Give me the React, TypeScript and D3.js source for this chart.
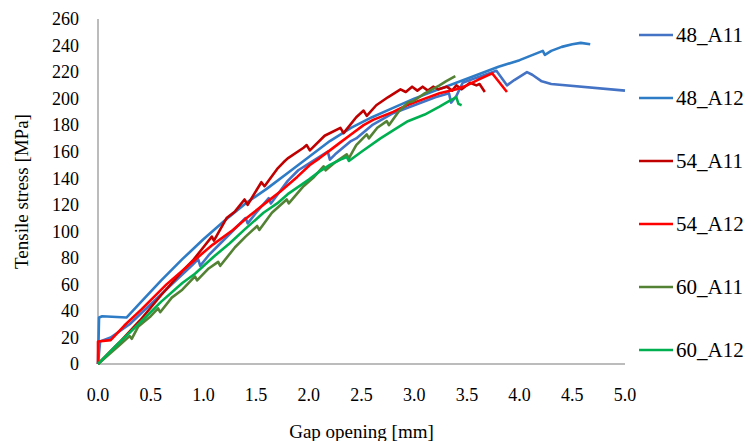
import React from 'react';
import * as d3 from 'd3';

// gap opening [mm], tensile stress [MPa]
const s48A11: [number, number][] = [
  [0, 0], [0.02, 17], [0.12, 20], [0.3, 30], [0.5, 45], [0.7, 60], [0.9, 75], [0.95, 79], [0.97, 74],
  [1.05, 82], [1.2, 94], [1.4, 110], [1.42, 106], [1.5, 114], [1.62, 125], [1.64, 121], [1.8, 138],
  [1.9, 146], [2.0, 151], [2.18, 160], [2.2, 154], [2.25, 158], [2.4, 168], [2.45, 170], [2.6, 180],
  [2.8, 189], [3.0, 195], [3.2, 201], [3.33, 204], [3.35, 197], [3.4, 202], [3.46, 212], [3.6, 216],
  [3.78, 221], [3.88, 210], [3.95, 214], [4.07, 220], [4.12, 218], [4.21, 213], [4.3, 211], [5.0, 206],
];
const s48A12: [number, number][] = [
  [0, 0], [0.01, 35], [0.04, 36], [0.27, 35], [0.4, 46], [0.6, 63], [0.8, 79], [1.0, 94], [1.2, 108],
  [1.4, 121], [1.6, 132], [1.8, 144], [2.0, 156], [2.2, 168], [2.4, 178], [2.6, 186], [2.8, 193],
  [3.0, 200], [3.2, 206], [3.4, 212], [3.6, 218], [3.8, 224], [4.0, 229], [4.22, 236], [4.24, 233],
  [4.3, 236], [4.4, 239], [4.5, 241], [4.58, 242], [4.67, 241],
];
const s54A11: [number, number][] = [
  [0, 0], [0.2, 16], [0.4, 33], [0.6, 52], [0.8, 70], [0.9, 78], [1.0, 88], [1.08, 96], [1.1, 93],
  [1.22, 110], [1.3, 115], [1.39, 124], [1.42, 120], [1.55, 137], [1.58, 134], [1.7, 147], [1.76, 152],
  [1.8, 155], [1.95, 163], [1.98, 165], [2.01, 161], [2.15, 172], [2.3, 178], [2.33, 174], [2.45, 186],
  [2.52, 191], [2.55, 187], [2.64, 195], [2.75, 201], [2.87, 207], [2.92, 205], [2.98, 209], [3.03, 206],
  [3.08, 209], [3.13, 206], [3.18, 209], [3.23, 207], [3.31, 209], [3.36, 206], [3.4, 210], [3.45, 207],
  [3.53, 212], [3.59, 210], [3.62, 211], [3.67, 205],
];
const s54A12: [number, number][] = [
  [0, 0], [0, 17], [0.12, 18], [0.25, 29], [0.41, 41], [0.65, 60], [0.97, 82], [1.09, 90], [1.28, 101],
  [1.41, 110], [1.6, 122], [1.73, 130], [1.89, 141], [2.01, 150], [2.1, 155], [2.2, 161], [2.3, 167],
  [2.4, 173], [2.52, 180], [2.61, 184], [2.8, 190], [2.93, 195], [3.1, 200], [3.24, 204], [3.4, 207],
  [3.5, 210], [3.6, 214], [3.74, 219], [3.76, 217], [3.88, 205],
];
const s60A11: [number, number][] = [
  [0, 0], [0.1, 7], [0.2, 14], [0.3, 21], [0.32, 19], [0.38, 28], [0.5, 36], [0.57, 42], [0.59, 39],
  [0.7, 50], [0.8, 56], [0.92, 66], [0.94, 63], [1.05, 72], [1.14, 77], [1.16, 74], [1.3, 88], [1.4, 96],
  [1.51, 104], [1.53, 101], [1.65, 114], [1.79, 124], [1.81, 121], [1.95, 134], [2.05, 141], [2.14, 149],
  [2.16, 146], [2.25, 152], [2.36, 158], [2.38, 155], [2.45, 165], [2.55, 173], [2.57, 170], [2.65, 178],
  [2.74, 183], [2.76, 180], [2.85, 190], [2.94, 197], [2.99, 198], [3.1, 204], [3.24, 210], [3.3, 213],
  [3.39, 217],
];
const s60A12: [number, number][] = [
  [0, 0], [0.2, 16], [0.41, 32], [0.6, 47], [0.8, 61], [0.92, 68], [1.1, 81], [1.25, 91], [1.4, 102],
  [1.57, 114], [1.7, 121], [1.8, 128], [2.0, 139], [2.1, 145], [2.2, 150], [2.3, 154], [2.36, 156],
  [2.38, 153], [2.5, 160], [2.68, 170], [2.8, 176], [2.94, 183], [3.1, 188], [3.24, 194], [3.35, 199],
  [3.4, 201], [3.42, 196], [3.45, 195],
];

const seriesNames = ['48_A11', '48_A12', '54_A11', '54_A12', '60_A11', '60_A12'];
const seriesData = [s48A11, s48A12, s54A11, s54A12, s60A11, s60A12];
const seriesColors = ['#4472C4', '#2E7BC6', '#C00000', '#FF0000', '#548235', '#00B050'];

const xTicks = [0, 0.5, 1, 1.5, 2, 2.5, 3, 3.5, 4, 4.5, 5];
const yTicks = d3.range(0, 261, 20);

const W = 751;
const H = 441;
const margin = { top: 19, right: 126, bottom: 77, left: 98 };
const font = '"Liberation Serif", "Times New Roman", serif';

export default function App() {
  const x = d3.scaleLinear().domain([0, 5]).range([margin.left, W - margin.right]);
  const y = d3.scaleLinear().domain([0, 260]).range([H - margin.bottom, margin.top]);
  const line = d3.line<[number, number]>().x(d => x(d[0])).y(d => y(d[1]));

  return (
    <svg width={W} height={H} style={{ position: 'absolute', left: 0, top: 0, background: '#fff' }}
      fontFamily={font}>
      {/* axes */}
      <line x1={x(0)} x2={x(0)} y1={y(0)} y2={y(260)} stroke="#A6A6A6" strokeWidth={1.5} />
      <line x1={x(0)} x2={x(5)} y1={y(0)} y2={y(0)} stroke="#A6A6A6" strokeWidth={1.5} />

      {yTicks.map(t => (
        <text key={'y' + t} x={79} y={y(t)} dy="0.35em" textAnchor="end" fontSize={18} fill="#000">{t}</text>
      ))}
      {xTicks.map(t => (
        <text key={'x' + t} x={x(t)} y={401} textAnchor="middle" fontSize={18} fill="#000">{t.toFixed(1)}</text>
      ))}

      <text x={x(2.5)} y={438} textAnchor="middle" fontSize={19}>Gap opening [mm]</text>
      <text transform={`translate(28,${y(130)}) rotate(-90)`} textAnchor="middle" fontSize={19}>Tensile stress [MPa]</text>

      {seriesData.map((d, i) => (
        <path key={seriesNames[i]} d={line(d) ?? ''} fill="none" stroke={seriesColors[i]}
          strokeWidth={2.6} strokeLinejoin="round" />
      ))}

      {seriesNames.map((n, i) => {
        const ly = 35 + i * 63;
        return (
          <g key={'lg' + n}>
            <line x1={639} x2={673} y1={ly} y2={ly} stroke={seriesColors[i]} strokeWidth={2.6} />
            <text x={676} y={ly} dy="0.35em" fontSize={21}>{n}</text>
          </g>
        );
      })}
    </svg>
  );
}
